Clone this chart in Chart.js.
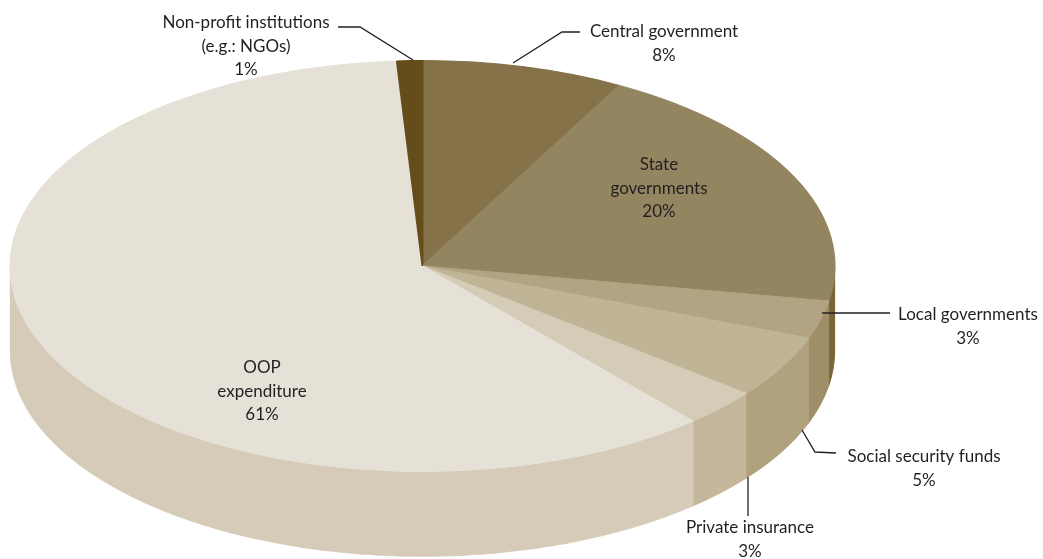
<!DOCTYPE html>
<html>
<head>
<meta charset="utf-8">
<script src="https://cdn.jsdelivr.net/npm/chart.js@4.4.1/dist/chart.umd.min.js"></script>
<style>
    html, body { margin: 0; padding: 0; background: #ffffff; }
    #wrap { width: 1043px; height: 559px; }
</style>
</head>
<body>
<div id="wrap"><canvas id="pie" width="1043" height="559"></canvas></div>
<script>
// health expenditure by financing source (%)
const sources = [
    'Central government',
    'State governments',
    'Local governments',
    'Social security funds',
    'Private insurance',
    'OOP expenditure',
    'Non-profit institutions'
];
const shares = [8, 20, 3, 5, 3, 61, 1];

// top face and side wall colours, same order as sources
const topColors = ['#857248', '#938560', '#b2a382', '#c0b497', '#d5ccb8', '#e6e1d7', '#654d1b'];
const wallColors = ['#6f5c34', '#7a6636', '#a08e68', '#b1a27f', '#c4b79b', '#d5cbb8', '#4f3b12'];

// callout text lines, text centre and leader line (null = no leader)
const callouts = [
    { lines: ['Central government', '8%'], x: 664, y: 32, leader: [[580, 32], [562, 32], [513, 63]] },
    { lines: ['State', 'governments', '20%'], x: 659, y: 165, leader: null },
    { lines: ['Local governments', '3%'], x: 968, y: 315, leader: [[890, 313], [822, 313]] },
    { lines: ['Social security funds', '5%'], x: 924, y: 457, leader: [[836, 453], [815, 452], [802, 430]] },
    { lines: ['Private insurance', '3%'], x: 750, y: 528, leader: [[748, 516], [748, 477]] },
    { lines: ['OOP', 'expenditure', '61%'], x: 262, y: 368, leader: null },
    { lines: ['Non-profit institutions', '(e.g.: NGOs)', '1%'], x: 246, y: 23, leader: [[338, 27], [360, 27], [413, 60]] }
];

const tiltRatio = 2.005;   // horizontal stretch of the pie (ellipse rx / ry)
const wallDepth = 85;      // thickness of the extruded side
const lineHeight = 23.5;

// stretches the pie into an ellipse and paints the front wall underneath
const tiltPlugin = {
    id: 'tilt',
    beforeDatasetsDraw(chart) {
        const ctx = chart.ctx;
        const meta = chart.getDatasetMeta(0);
        const first = meta.data[0];
        const cx = first.x, cy = first.y, r = first.outerRadius;
        ctx.save();
        ctx.translate(cx, 0);
        ctx.scale(tiltRatio, 1);
        ctx.translate(-cx, 0);

        meta.data.forEach((arc, i) => {
            const s = Math.max(arc.startAngle, 0);
            const e = Math.min(arc.endAngle, Math.PI);
            if (s >= e) {
                return;
            }
            ctx.beginPath();
            ctx.arc(cx, cy, r, s, e);
            ctx.arc(cx, cy + wallDepth, r, e, s, true);
            ctx.closePath();
            ctx.fillStyle = wallColors[i];
            ctx.strokeStyle = wallColors[i];
            ctx.lineWidth = 0.6;
            ctx.fill();
            ctx.stroke();
        });
    },
    afterDatasetsDraw(chart) {
        chart.ctx.restore();
    }
};

// text labels and leader lines
const calloutPlugin = {
    id: 'callouts',
    afterDraw(chart) {
        const ctx = chart.ctx;
        ctx.save();
        ctx.strokeStyle = '#231f20';
        ctx.lineWidth = 1.3;
        callouts.forEach(c => {
            if (c.leader) {
                ctx.beginPath();
                c.leader.forEach((p, j) => j === 0 ? ctx.moveTo(p[0], p[1]) : ctx.lineTo(p[0], p[1]));
                ctx.stroke();
            }
            ctx.fillStyle = '#231f20';
            ctx.font = '17px Lato';
            ctx.textAlign = 'center';
            ctx.textBaseline = 'middle';
            c.lines.forEach((t, j) => ctx.fillText(t, c.x, c.y + j * lineHeight));
        });
        ctx.restore();
    }
};

new Chart(document.getElementById('pie'), {
    type: 'pie',
    data: {
        labels: sources,
        datasets: [{
            data: shares,
            backgroundColor: topColors,
            borderColor: topColors,
            borderWidth: 1,
            clip: false
        }]
    },
    options: {
        responsive: false,
        animation: false,
        layout: {
            padding: { left: 9, right: 207, top: 60, bottom: 87 }
        },
        plugins: {
            legend: { display: false },
            tooltip: { enabled: false }
        }
    },
    plugins: [tiltPlugin, calloutPlugin]
});
</script>
</body>
</html>
